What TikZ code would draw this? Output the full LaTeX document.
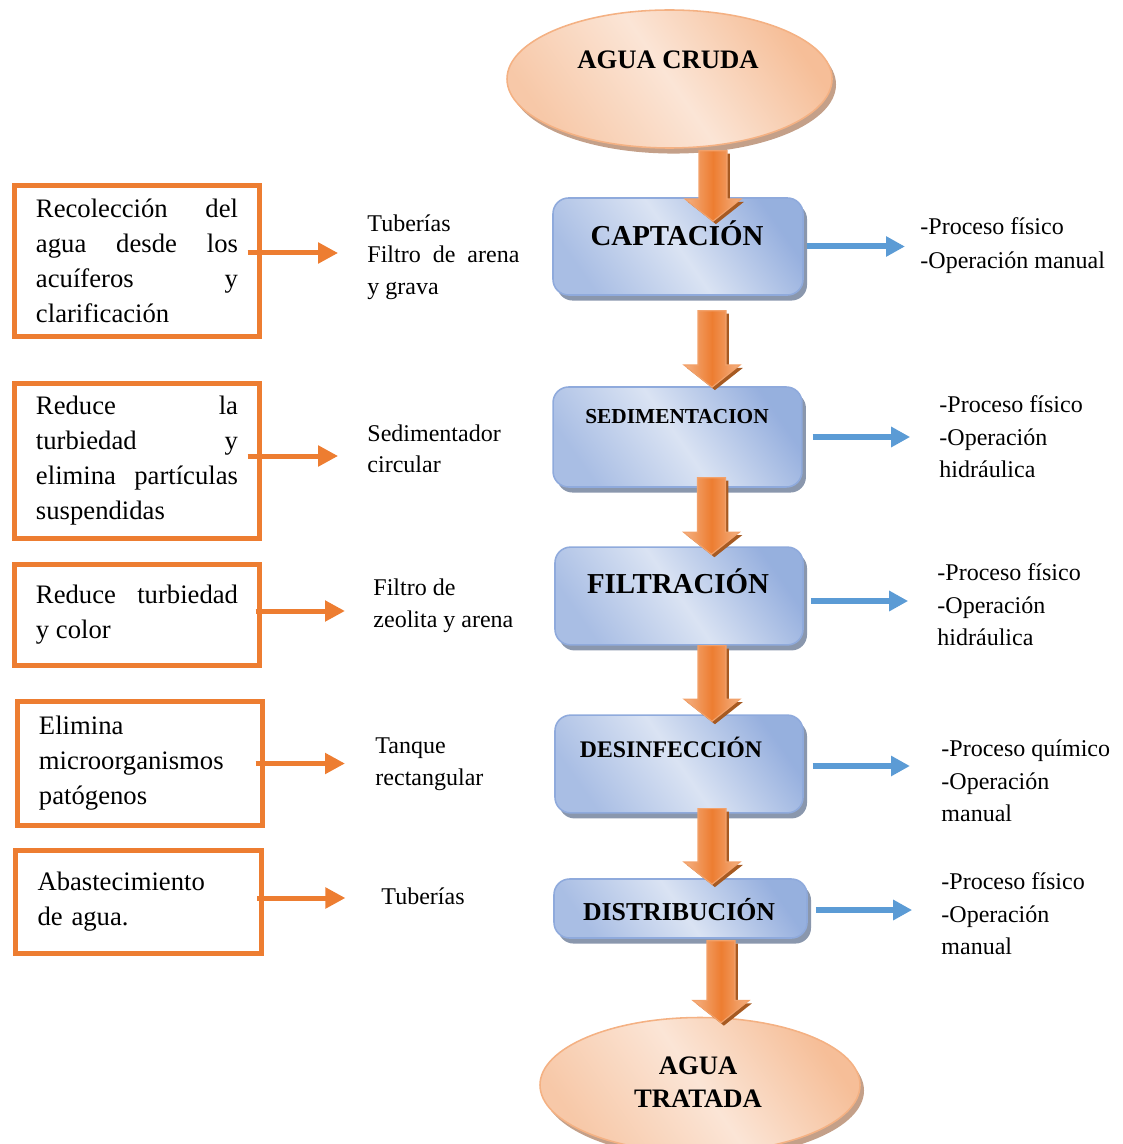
\documentclass[tikz,border=0pt]{standalone}
\usepackage{fontspec}
\setmainfont{Liberation Serif}
\usepackage{tikz}
\usetikzlibrary{positioning,shapes,shadows,calc}
\usetikzlibrary{arrows.meta}

\definecolor{naranja}{HTML}{ED7D31}
\definecolor{naranjaclaro}{HTML}{F4B183}
\definecolor{naranjapalido}{HTML}{FBE5D6}
\definecolor{naranjasombra}{HTML}{C4A089}
\definecolor{naranjaoscuro}{HTML}{A65A22}
\definecolor{azul}{HTML}{5B9BD5}
\definecolor{azulclaro}{HTML}{DAE3F3}
\definecolor{azulmedio}{HTML}{8FAADC}
\definecolor{azulsombra}{HTML}{8A97AD}

\newcommand{\flechagruesa}[2]{%
\shade[flechagr] let \p1=#1, \p2=#2 in
  (\x1-6.3pt,\y1) -- (\x1+6.3pt,\y1) -- (\x1+6.3pt,\y2+10pt) -- (\x1+12.6pt,\y2+10pt)
  -- (\x1,\y2) -- (\x1-12.6pt,\y2+10pt) -- (\x1-6.3pt,\y2+10pt) -- cycle;}

\begin{document}
\begin{tikzpicture}[x=0.45pt,y=-0.45pt,
  etapa/.style={rectangle,rounded corners=7pt,draw=azulmedio,line width=0.7pt,
    top color=azulmedio!90!azulclaro,bottom color=azulmedio!65!azulclaro,middle color=azulclaro,shading angle=-55,
    minimum width=112.5pt,minimum height=44pt,inner sep=0pt,
    drop shadow={shadow xshift=1.8pt,shadow yshift=-2.5pt,fill=azulsombra,opacity=1}},
  agua/.style={ellipse,draw=naranjaclaro,line width=0.7pt,
    top color=naranjaclaro!75!naranjapalido,bottom color=naranjaclaro!55!naranjapalido,middle color=naranjapalido,shading angle=-55,
    inner sep=0pt,
    drop shadow={shadow xshift=1.8pt,shadow yshift=-2.5pt,fill=naranjasombra,opacity=1}},
  titulo/.style={inner sep=0pt,font=\bfseries},
  marco/.style={rectangle,draw=naranja,line width=2.25pt,minimum width=110.25pt,
    text width=90.9pt,inner xsep=9.7pt,inner ysep=2pt,
    font=\fontsize{12}{15.75}\selectfont},
  medio/.style={anchor=west,inner sep=0pt,align=left,font=\fontsize{10.8}{14.2}\selectfont},
  derecha/.style={anchor=west,inner sep=0pt,align=left,font=\fontsize{10.8}{14.6}\selectfont},
  flechagr/.style={left color=naranjaclaro,right color=naranjaclaro,middle color=naranja,
    draw=naranjaclaro!70!naranja,line width=0.5pt,
    drop shadow={shadow xshift=1.3pt,shadow yshift=-1.3pt,fill=naranjaoscuro,opacity=1}},
  flechanar/.style={draw=naranja,line width=2.25pt,-{Triangle[width=9pt,length=9pt]}},
  flechaaz/.style={draw=azul,line width=2.7pt,-{Triangle[width=8.7pt,length=8.5pt]}}]
\useasboundingbox (0,0) rectangle (1122,1144);
% proceso
\fill (669.5,79) node[agua,minimum width=146.25pt,minimum height=62.1pt] (cruda) {};
\fill (678,246.5) node[etapa,minimum height=43.65pt] (capt) {};
\fill (677.5,437) node[etapa,minimum width=112pt,minimum height=45pt] (sed) {};
\fill (679,596) node[etapa,minimum width=111.6pt] (fil) {};
\fill (679,764) node[etapa,minimum width=111.6pt] (des) {};
\fill (680.5,908.5) node[etapa,minimum width=113.85pt,minimum height=26.55pt] (dis) {};
\fill (700,1085) node[agua,minimum width=144pt,minimum height=60.75pt] (tratada) {};
%
\flechagruesa{($(cruda.south)+(43.5,2)$)}{($(capt.north)+(35,24)$)}
\flechagruesa{($(capt.south)+(34,15)$)}{($(sed.north)+(34,1)$)}
\flechagruesa{($(sed.south)+(34,-10)$)}{($(fil.north)+(33,8)$)}
\flechagruesa{($(fil.south)+(33,0)$)}{($(des.north)+(33,7)$)}
\flechagruesa{($(des.south)+(33,-5)$)}{($(dis.north)+(33,6)$)}
\flechagruesa{($(dis.south)+(40.5,2)$)}{($(tratada.north)+(21,6)$)}
%
\fill ($(cruda)+(-1.5,-19)$) node[titulo,font=\bfseries\fontsize{12}{14}\selectfont] (crudat) {AGUA CRUDA};
\fill ($(capt)+(-1,-13.5)$) node[titulo,font=\bfseries\fontsize{13}{15}\selectfont] (captt) {CAPTACIÓN};
\fill ($(sed)+(-0.5,-20)$) node[titulo,font=\bfseries\fontsize{9.6}{11}\selectfont] (sedt) {SEDIMENTACION};
\fill ($(fil)+(-1,-15)$) node[titulo,font=\bfseries\fontsize{13}{15}\selectfont] (filt) {FILTRACIÓN};
\fill ($(des)+(-8,-17)$) node[titulo,font=\bfseries\fontsize{10.7}{12}\selectfont] (dest) {DESINFECCIÓN};
\fill ($(dis)+(-1.5,1.5)$) node[titulo,font=\bfseries\fontsize{11.6}{13}\selectfont] (dist) {DISTRIBUCIÓN};
\fill ($(tratada)+(-2,-3)$) node[titulo,align=center,font=\bfseries\fontsize{12}{14.85}\selectfont] (tratadat) {AGUA\\TRATADA};
% descripciones
\fill (137,261) node[marco,align=justify,minimum height=67.95pt] (rec) {Recolección del\linebreak agua desde los\linebreak acuíferos y\linebreak clarificación};
\fill (137,461) node[marco,align=justify,minimum height=69.75pt] (red) {Reduce la\linebreak turbiedad y\linebreak elimina partículas\linebreak suspendidas};
\fill (137,615) node[marco,align=justify,minimum height=45.45pt] (redc) {Reduce turbiedad\linebreak y color};
\fill (140,763.5) node[marco,align=left,minimum height=55.8pt] (eli) {Elimina\\microorganismos\\patógenos};
\fill (138.5,902) node[marco,align=left,minimum width=108.9pt,minimum height=46.35pt] (aba) {Abastecimiento\\de agua.};
%
\fill (367,257) node[medio] (tub) {Tuberías\\Filtro\ \ de\ \ arena\\y grava};
\fill (367,449) node[medio] (sedc) {Sedimentador\\circular};
\fill (373,606) node[medio] (zeo) {Filtro de\\zeolita y arena};
\fill (375,764) node[medio] (tan) {Tanque\\rectangular};
\fill (381,896) node[medio] (tubd) {Tuberías};
%
\fill (920,246) node[derecha,font=\fontsize{10.8}{15.3}\selectfont] (pcapt) {-Proceso físico\\-Operación manual};
\fill (939,437) node[derecha] (psed) {-Proceso físico\\-Operación\\hidráulica};
\fill (937,605) node[derecha] (pfil) {-Proceso físico\\-Operación\\hidráulica};
\fill (941,781) node[derecha] (pdes) {-Proceso químico\\-Operación\\manual};
\fill (941,914) node[derecha] (pdis) {-Proceso físico\\-Operación\\manual};
%
\coordinate (r1) at ($(rec.east)+(-14.5,-8)$);
\coordinate (r2) at ($(red.east)+(-14.5,-5)$);
\coordinate (r3) at ($(redc.east)+(-6.5,-4)$);
\coordinate (r4) at ($(eli.east)+(-9.5,0)$);
\coordinate (r5) at ($(aba.east)+(-6.5,-4)$);
{
\path (r1) edge[flechanar,shorten >=13pt] (r1 -| tub.west);
\path (r2) edge[flechanar,shorten >=13pt] (r2 -| sedc.west);
\path (r3) edge[flechanar,shorten >=12.6pt] (r3 -| zeo.west);
\path (r4) edge[flechanar,shorten >=13.5pt] (r4 -| tan.west);
\path (r5) edge[flechanar,shorten >=16pt] (r5 -| tubd.west);
%
\path (capt.east) edge[flechaaz,shorten <=1.4pt,shorten >=6.8pt] (capt.east -| pcapt.west);
\path (sed.east) edge[flechaaz,shorten <=4.5pt,shorten >=13pt] (sed.east -| psed.west);
\path ($(fil.east)+(0,5)$) edge[flechaaz,shorten <=3.2pt,shorten >=13pt] ($(fil.east -| pfil.west)+(0,5)$);
\path ($(des.east)+(0,2)$) edge[flechaaz,shorten <=4pt,shorten >=14pt] ($(des.east -| pdes.west)+(0,2)$);
\path ($(dis.east)+(0,1.5)$) edge[flechaaz,shorten <=3.6pt,shorten >=13pt] ($(dis.east -| pdis.west)+(0,1.5)$);
}
\end{tikzpicture}
\end{document}
